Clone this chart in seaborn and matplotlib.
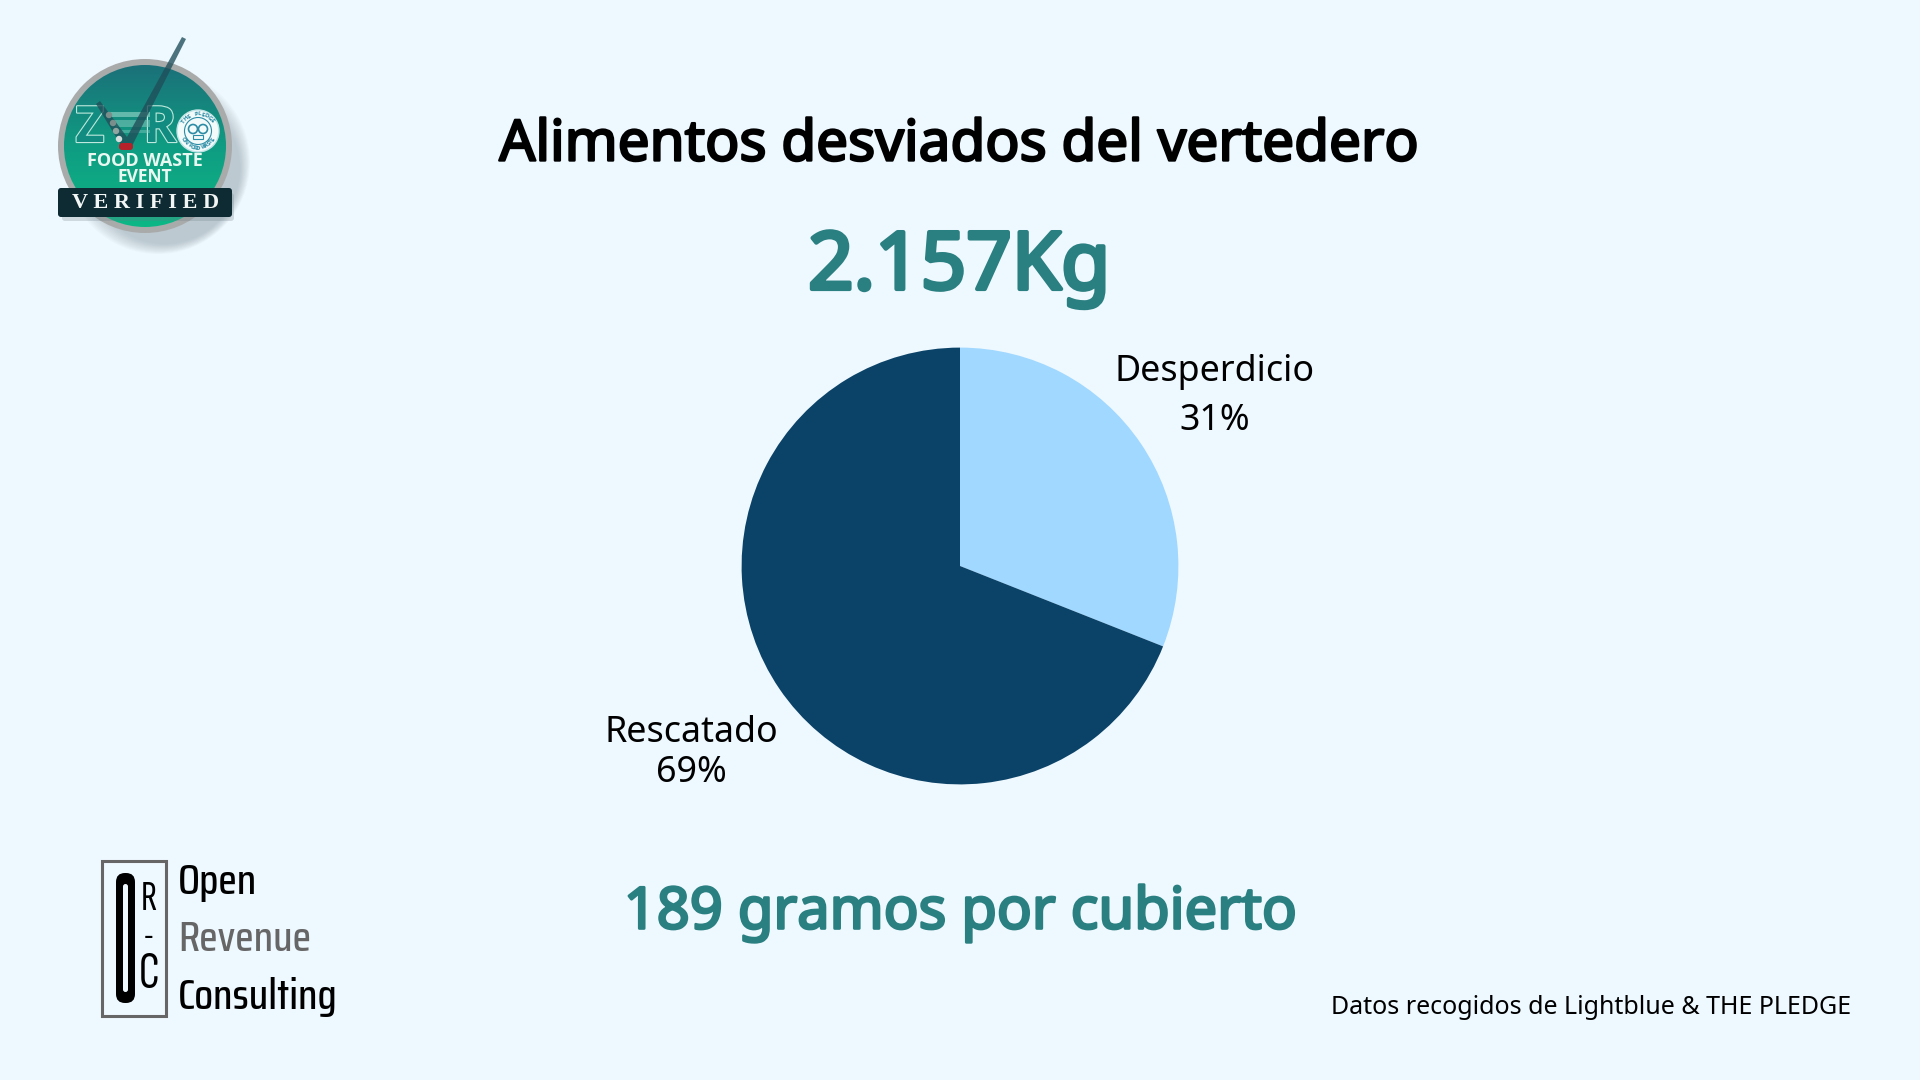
import numpy as np
import matplotlib
matplotlib.use('Agg')
import matplotlib.pyplot as plt
import matplotlib.patheffects as pe
from matplotlib.colors import LinearSegmentedColormap
from matplotlib.patches import Circle, FancyBboxPatch, Rectangle, Polygon
import seaborn as sns

CATEGORIES = ['Desperdicio', 'Rescatado']
SHARES = [31, 69]
PIE_COLORS = ['#A0D8FF', '#0B4267']
TITLE = 'Alimentos desviados del vertedero'
TOTAL = '2.157Kg'
PER_COVER = '189 gramos por cubierto'
SOURCE = 'Datos recogidos de Lightblue & THE PLEDGE'

BG = '#EEF8FF'
TEAL = '#2A7F80'
LOGO_FONT = 'Saira Condensed'

sns.set_theme(style='white')
plt.rcParams['font.family'] = ['Noto Sans', 'DejaVu Sans']


def bold(width, color):
    # Noto Sans only comes in regular here, so thicken it with a stroke
    return [pe.withStroke(linewidth=width, foreground=color)]


def arc_text(ax, word, cx, cy, r, start, step, flip=False):
    # letters around the pledge seal, angles in degrees from the top
    for i, ch in enumerate(word):
        a = np.radians(start + i * step)
        x = cx + r * np.sin(a)
        y = cy - r * np.cos(a)
        rot = -np.degrees(a) + (180 if flip else 0)
        ax.text(x, y, ch, ha='center', va='center', rotation=rot, fontsize=4.5, fontweight='bold',
                family='Open Sans', color='#2C8CA5', zorder=7)


fig = plt.figure(figsize=(19.2, 10.8), dpi=100, facecolor=BG)

# overlay in pixel coordinates, y goes down like the reference
bg = fig.add_axes([0, 0, 1, 1])
bg.axis('off')

bg.text(959, 146, TITLE, ha='center', va='center', fontsize=40.8, color='black',
        path_effects=bold(1.7, 'black'))
bg.text(959, 268, TOTAL, ha='center', va='center', fontsize=57.4, color=TEAL,
        path_effects=bold(3, TEAL))
bg.text(960, 913, PER_COVER, ha='center', va='center', fontsize=41.6, color=TEAL,
        path_effects=bold(1.9, TEAL))
bg.text(1851, 1008, SOURCE, ha='right', va='center', fontsize=18, color='black')

# pie
pie_ax = fig.add_axes([(960 - 220) / 1920, (1080 - 566 - 220) / 1080, 440 / 1920, 440 / 1080])
pie_ax.pie(SHARES, colors=PIE_COLORS, startangle=90, counterclock=False, radius=218.4 / 220,
           wedgeprops={'linewidth': 0})
pie_ax.set_xlim(-1, 1)
pie_ax.set_ylim(-1, 1)

bg.text(1215, 372, CATEGORIES[0], ha='center', va='center', fontsize=25.8, color='black')
bg.text(1215, 421, f'{SHARES[0]}%', ha='center', va='center', fontsize=25.8, color='black')
bg.text(691, 733, CATEGORIES[1], ha='center', va='center', fontsize=25.8, color='black')
bg.text(691, 773, f'{SHARES[1]}%', ha='center', va='center', fontsize=25.8, color='black')

# badge top left
for i in range(12):
    bg.add_patch(Circle((158 + i * 0.6, 162 + i * 0.6), 92 - i * 1.5, color='#7f9097', alpha=0.045, lw=0, zorder=1))
bg.add_patch(Circle((145, 146), 87, color='#A9ABAB', lw=0, zorder=2))
disc = Circle((145, 146), 81, transform=bg.transData, lw=0)
grad = bg.imshow(np.linspace(0, 1, 256).reshape(-1, 1), extent=(60, 230, 228, 64), aspect='auto', zorder=3,
                 cmap=LinearSegmentedColormap.from_list('badge', ['#1B7079', '#0F9C82', '#0DB886']))
grad.set_clip_path(disc)

for txt, x in [('Z', 90), ('R', 160)]:
    bg.text(x, 129, txt, ha='center', va='center', fontsize=36, family='Open Sans', fontweight='bold', color='#128C80',
            zorder=4, path_effects=[pe.Stroke(linewidth=1.6, foreground='#BFE9DE'), pe.Normal()])

# the stripes standing in for the E of ZERO
for y0, y1, a in [(112, 117, 0.75), (120, 127, 0.55), (130, 133, 0.45)]:
    bg.add_patch(Polygon([(110 + (y0 - 112) * 0.4, y0), (150, y0), (150, y1), (110 + (y1 - 112) * 0.4, y1)],
                         closed=True, facecolor='#7FC9BC', alpha=a, lw=0, zorder=4))
for x, y, c in [(109, 115, '#7A8F8C'), (113, 123, '#7A8F8C'), (116, 131, '#8FA5A0'), (119, 139, '#D5DEDC')]:
    bg.add_patch(Circle((x, y), 3.2, facecolor=c, lw=0, zorder=6))
bg.add_patch(FancyBboxPatch((119, 143), 14, 7, boxstyle='round,pad=0,rounding_size=3', facecolor='#B7222A', lw=0, zorder=6))

bg.add_patch(Circle((198, 131), 21, facecolor='#F2FAFA', edgecolor='#BFE3E6', lw=1, zorder=5))
bg.add_patch(Circle((198, 131), 13.5, facecolor='none', edgecolor='#2C8CA5', lw=0.8, zorder=6))
bg.add_patch(Circle((193, 129), 4.5, facecolor='none', edgecolor='#2C8CA5', lw=1.2, zorder=6))
bg.add_patch(Circle((203, 129), 4.5, facecolor='none', edgecolor='#2C8CA5', lw=1.2, zorder=6))
bg.add_patch(Rectangle((193, 135), 10, 4, facecolor='none', edgecolor='#2C8CA5', lw=0.8, zorder=6))
arc_text(bg, 'THE PLEDGE', 198, 131, 17, -55, 12)
arc_text(bg, 'ON FOOD WASTE', 198, 131, 17, 240, -10, flip=True)

# check mark, thin at the top end
bg.add_patch(Polygon([(96, 104), (100, 101), (127, 137), (182, 37), (186, 39), (130, 150), (124, 150)],
                     closed=True, facecolor='#1F4E59', alpha=0.78, lw=0, zorder=5))

bg.text(145, 161, 'FOOD WASTE', ha='center', va='center', fontsize=13, fontweight='bold',
        family='Open Sans', color='#EAF8F2', zorder=6)
bg.text(145, 177, 'EVENT', ha='center', va='center', fontsize=12.5, fontweight='bold',
        family='Open Sans', color='#EAF8F2', zorder=6)
bg.add_patch(FancyBboxPatch((62, 193), 172, 28, boxstyle='round,pad=0,rounding_size=3', facecolor='#6c7c82', alpha=0.25, lw=0, zorder=6))
bg.add_patch(FancyBboxPatch((58, 188), 174, 29, boxstyle='round,pad=0,rounding_size=3', facecolor='#0E2A33', lw=0, zorder=7))
bg.text(146, 203, 'V E R I F I E D', ha='center', va='center', fontsize=16, fontweight='bold',
        family='Liberation Serif', color='#F2F6F5', zorder=8)

# ORC logo bottom left
bg.add_patch(Rectangle((102, 861), 64, 155, facecolor='none', edgecolor='#666666', lw=2.2))
bg.add_patch(FancyBboxPatch((116, 873), 19, 130, boxstyle='round,pad=0,rounding_size=9', facecolor='black', lw=0))
bg.add_patch(FancyBboxPatch((123, 884), 5, 108, boxstyle='round,pad=0,rounding_size=2.5', facecolor=BG, lw=0))
bg.text(149, 899, 'R', ha='center', va='center', fontsize=31, fontweight=300, family='Sofia Sans Extra Condensed', color='black')
bg.text(149, 937, '-', ha='center', va='center', fontsize=24, fontweight='bold', family='Sofia Sans Extra Condensed', color='black')
bg.text(149, 975, 'C', ha='center', va='center', fontsize=38, fontweight=300, family='Sofia Sans Extra Condensed', color='black')
bg.text(178, 882, 'Open', ha='left', va='center', fontsize=31, fontweight=500, family=LOGO_FONT, color='black')
bg.text(178, 939, 'Revenue', ha='left', va='center', fontsize=31, fontweight=500, family=LOGO_FONT, color='#666666')
bg.text(178, 997, 'Consulting', ha='left', va='center', fontsize=31, fontweight=500, family=LOGO_FONT, color='black')

bg.set_xlim(0, 1920)
bg.set_ylim(1080, 0)

fig.savefig('out.png', dpi=100, facecolor=BG)
